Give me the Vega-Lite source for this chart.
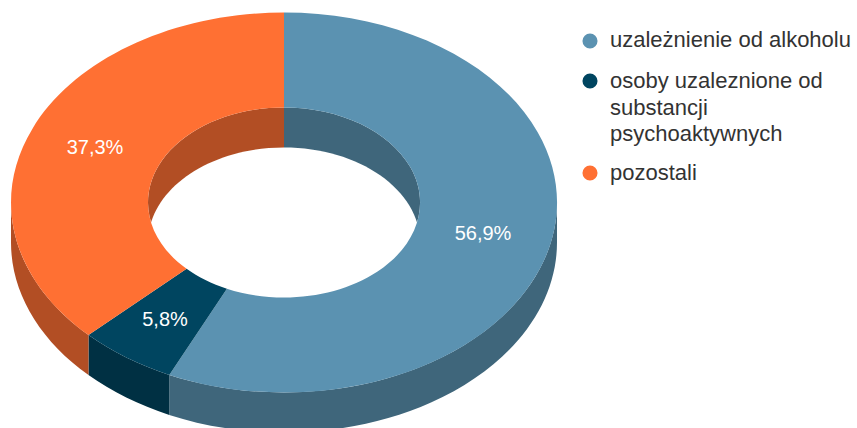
{
  "$schema": "https://vega.github.io/schema/vega-lite/v6.json",
  "width": 857,
  "height": 428,
  "padding": 0,
  "autosize": "none",
  "background": "white",
  "config": {"view": {"stroke": null}, "font": "Liberation Sans"},
  "data": {"values": [
    {"kategoria": "uzależnienie od alkoholu", "udzial": 56.9, "etykieta": "56,9%"},
    {"kategoria": "osoby uzaleznione od\nsubstancji\npsychoaktywnych", "udzial": 5.8, "etykieta": "5,8%"},
    {"kategoria": "pozostali", "udzial": 37.3, "etykieta": "37,3%"}
  ]},
  "layer": [
    {
      "mark": {"type": "point", "filled": true, "opacity": 1, "strokeWidth": 0, "size": 4},
      "encoding": {
        "x": {"datum": 284, "type": "quantitative", "axis": null, "scale": {"domain": [0, 857], "range": [0, 857]}},
        "y": {"datum": 202.5, "type": "quantitative", "axis": null, "scale": {"domain": [0, 428], "range": [0, 428]}},
        "shape": {"field": "udzial", "type": "nominal", "legend": null, "scale": {"domain": [56.9, 5.8, 37.3], "range": [
          "M273 0 A273 190 0 0 1 -114.7 172.4 L-114.7 212.4 A273 190 0 0 0 273 40 Z",
          "M-114.7 172.4 A273 190 0 0 1 -195.5 132.6 L-195.5 172.6 A273 190 0 0 0 -114.7 212.4 Z",
          "M-195.5 132.6 A273 190 0 0 1 -273 0 L-273 40 A273 190 0 0 0 -195.5 172.6 Z"
        ]}},
        "color": {"field": "udzial", "type": "nominal", "legend": null, "scale": {"domain": [56.9, 5.8, 37.3], "range": ["#3f667b", "#003043", "#b24e24"]}}
      }
    },
    {
      "mark": {"type": "point", "filled": true, "opacity": 1, "strokeWidth": 0, "size": 4},
      "encoding": {
        "x": {"datum": 284, "type": "quantitative", "axis": null, "scale": {"domain": [0, 857], "range": [0, 857]}},
        "y": {"datum": 202.5, "type": "quantitative", "axis": null, "scale": {"domain": [0, 428], "range": [0, 428]}},
        "shape": {"field": "udzial", "type": "nominal", "legend": null, "scale": {"domain": [56.9, 5.8, 37.3], "range": [
          "M0 -95 A136 95 0 1 1 -57.1 86.2 L0 0 Z",
          "M-57.1 86.2 A136 95 0 0 1 -97.4 66.3 L0 0 Z",
          "M-97.4 66.3 A136 95 0 0 1 0 -95 L0 0 Z"
        ]}},
        "color": {"field": "udzial", "type": "nominal", "legend": null, "scale": {"domain": [56.9, 5.8, 37.3], "range": ["#3f667b", "#003043", "#b24e24"]}}
      }
    },
    {
      "data": {"values": [{"element": "otwór"}]},
      "mark": {"type": "point", "filled": true, "opacity": 1, "strokeWidth": 0, "size": 4, "color": "white",
        "shape": "M-136 40 A136 95 0 1 1 136 40 A136 95 0 1 1 -136 40 Z"},
      "encoding": {
        "x": {"datum": 284, "type": "quantitative", "axis": null, "scale": {"domain": [0, 857], "range": [0, 857]}},
        "y": {"datum": 202.5, "type": "quantitative", "axis": null, "scale": {"domain": [0, 428], "range": [0, 428]}}
      }
    },
    {
      "mark": {"type": "point", "filled": true, "opacity": 1, "strokeWidth": 0, "size": 4},
      "encoding": {
        "x": {"datum": 284, "type": "quantitative", "axis": null, "scale": {"domain": [0, 857], "range": [0, 857]}},
        "y": {"datum": 202.5, "type": "quantitative", "axis": null, "scale": {"domain": [0, 428], "range": [0, 428]}},
        "shape": {"field": "udzial", "type": "nominal", "legend": null, "scale": {"domain": [56.9, 5.8, 37.3], "range": [
          "M0 -190 A273 190 0 1 1 -114.7 172.4 L-57.1 86.2 A136 95 0 1 0 0 -95 Z",
          "M-114.7 172.4 A273 190 0 0 1 -195.5 132.6 L-97.4 66.3 A136 95 0 0 0 -57.1 86.2 Z",
          "M-195.5 132.6 A273 190 0 0 1 0 -190 L0 -95 A136 95 0 0 0 -97.4 66.3 Z"
        ]}},
        "color": {"field": "udzial", "type": "nominal", "legend": null, "scale": {"domain": [56.9, 5.8, 37.3], "range": ["#5b92b1", "#004560", "#ff7033"]}}
      }
    },
    {
      "mark": {"type": "text", "fontSize": 20, "color": "white", "align": "center", "baseline": "middle"},
      "encoding": {
        "x": {"field": "udzial", "type": "quantitative", "axis": null, "scale": {"domain": [5.8, 37.3, 56.9], "range": [165, 95, 483], "zero": false, "nice": false}},
        "y": {"field": "udzial", "type": "quantitative", "axis": null, "scale": {"domain": [5.8, 37.3, 56.9], "range": [320, 148, 234], "zero": false, "nice": false}},
        "text": {"field": "etykieta"}
      }
    },
    {
      "mark": {"type": "point", "filled": true, "opacity": 1, "strokeWidth": 0, "shape": "circle", "size": 227},
      "encoding": {
        "x": {"datum": 590, "type": "quantitative", "axis": null, "scale": {"domain": [0, 857], "range": [0, 857]}},
        "y": {"field": "udzial", "type": "quantitative", "axis": null, "scale": {"domain": [5.8, 37.3, 56.9], "range": [81, 173, 41], "zero": false, "nice": false}},
        "color": {"field": "udzial", "type": "nominal", "legend": null, "scale": {"domain": [56.9, 5.8, 37.3], "range": ["#5b92b1", "#004560", "#ff7033"]}}
      }
    },
    {
      "mark": {"type": "text", "fontSize": 22, "color": "#333333", "align": "left", "baseline": "alphabetic", "lineBreak": "\n", "lineHeight": 26.5},
      "encoding": {
        "x": {"datum": 610, "type": "quantitative", "axis": null, "scale": {"domain": [0, 857], "range": [0, 857]}},
        "y": {"field": "udzial", "type": "quantitative", "axis": null, "scale": {"domain": [5.8, 37.3, 56.9], "range": [88, 180, 47], "zero": false, "nice": false}},
        "text": {"field": "kategoria"}
      }
    }
  ],
  "resolve": {"scale": {"x": "independent", "y": "independent", "shape": "independent", "color": "independent"}}
}
